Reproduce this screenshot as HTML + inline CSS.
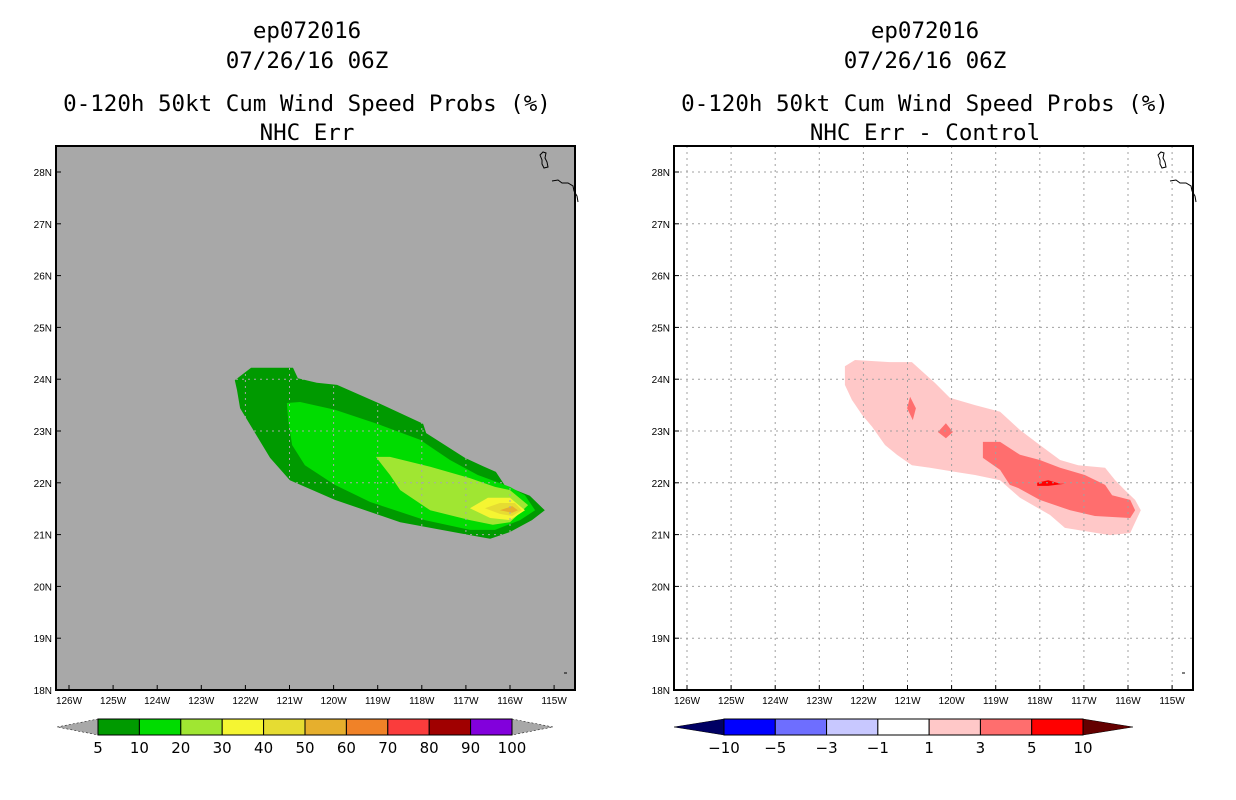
<!DOCTYPE html>
<html><head><meta charset="utf-8"><style>
body{margin:0;background:#fff;width:1236px;height:800px;overflow:hidden}
svg{display:block;font-family:"Liberation Sans",sans-serif}
.t{font-family:"DejaVu Sans Mono","Liberation Mono",monospace;font-size:22.5px;fill:#000;text-anchor:middle}
.tk{font-size:10px;fill:#000}
.cb{font-family:"DejaVu Sans","Liberation Sans",sans-serif;font-size:15px;text-anchor:middle}
</style></head><body>
<svg id="s" width="1236" height="800"></svg>
<script>
const lonTicks=[126,125,124,123,122,121,120,119,118,117,116,115];
const latTicks=[18,19,20,21,22,23,24,25,26,27,28];
// left panel contours [lonW, lat]
const c5=[[122.24,23.98],[121.87,24.22],[120.92,24.22],[120.81,24.02],[120.38,23.93],[119.92,23.89],[118.88,23.5],[117.97,23.14],[117.9,22.96],[117.02,22.48],[116.61,22.32],[116.32,22.21],[116.11,21.94],[115.55,21.75],[115.21,21.47],[115.5,21.28],[116.0,21.05],[116.45,20.92],[116.91,20.99],[118.49,21.24],[119.97,21.67],[120.99,22.05],[121.44,22.48],[121.85,23.06],[122.12,23.44],[122.19,23.79]];
const c10=[[121.06,23.54],[120.76,23.56],[119.97,23.41],[118.95,23.12],[118.04,22.83],[117.36,22.44],[116.73,22.15],[116.0,21.92],[115.66,21.76],[115.43,21.47],[115.77,21.28],[116.34,21.09],[116.91,21.09],[117.93,21.28],[119.17,21.63],[119.97,21.96],[120.65,22.34],[120.94,22.73],[121.03,23.21]];
const c20=[[119.04,22.5],[118.72,22.5],[117.81,22.31],[116.91,22.09],[116.34,21.92],[116.0,21.86],[115.59,21.57],[116.0,21.24],[116.39,21.19],[116.91,21.28],[117.81,21.47],[118.49,21.86],[118.72,22.15]];
const c30=[[116.91,21.51],[116.5,21.71],[116.0,21.71],[115.66,21.47],[116.0,21.28],[116.45,21.32]];
const c40=[[116.57,21.51],[116.23,21.61],[115.89,21.61],[115.73,21.47],[115.95,21.36],[116.23,21.4]];
const c50=[[116.23,21.47],[115.95,21.55],[115.82,21.47],[115.95,21.42]];
// right panel difference contours
const d1=[[122.42,24.25],[122.19,24.37],[121.4,24.33],[120.9,24.33],[120.38,23.93],[120.04,23.64],[119.47,23.5],[118.9,23.37],[118.45,23.02],[118.0,22.73],[117.54,22.44],[117.13,22.34],[116.52,22.29],[116.29,22.05],[116.07,21.86],[115.84,21.67],[115.71,21.47],[115.95,21.03],[116.41,20.99],[117.43,21.13],[117.77,21.38],[118.45,21.71],[118.9,22.05],[119.47,22.15],[119.92,22.21],[120.49,22.29],[120.9,22.34],[121.24,22.54],[121.51,22.73],[121.8,23.08],[122.03,23.31],[122.26,23.6],[122.42,23.89]];
const d3a=[[119.29,22.79],[118.9,22.79],[118.45,22.54],[118.0,22.44],[117.54,22.29],[116.98,22.15],[116.52,21.96],[116.36,21.76],[115.95,21.67],[115.84,21.47],[115.95,21.32],[116.75,21.36],[117.31,21.47],[118.0,21.67],[118.49,21.9],[118.68,21.96],[118.9,22.25],[119.29,22.48]];
const d3b=[[120.94,23.66],[120.81,23.44],[120.88,23.21],[121.01,23.44]];
const d3c=[[120.13,23.15],[119.97,22.98],[120.13,22.86],[120.31,22.98]];
const d5=[[118.06,22.0],[117.81,22.05],[117.54,21.98],[117.43,21.98],[117.81,21.94],[118.06,21.94]];
const leftLevels=["5","10","20","30","40","50","60","70","80","90","100"];
const leftColors=["#009a00","#00dc00","#a0e632","#f5f532","#e6dc32","#e6af2d","#f08228","#fa3c3c","#a00000","#8200dc"];
const rightLevels=["−10","−5","−3","−1","1","3","5","10"];
const rightColors=["#000064","#0000ff","#6e6eff","#c8c8ff","#ffffff","#ffc8c8","#ff6e6e","#ff0000","#640000"];

const NS="http://www.w3.org/2000/svg";
const svg=document.getElementById('s');
function el(t,a,p){const e=document.createElementNS(NS,t);for(const k in a)e.setAttribute(k,a[k]);(p||svg).appendChild(e);return e;}
function xS(x0){return lon=>x0+13+(126-lon)*44.1;}
function yS(lat){return 690-(lat-18)*51.8;}

function panel(x0,bg,name,t3,polys,gridCol){
  const g=el('g',{});
  
  
  const xs=xS(x0);
  const tl=[["ep072016",30],["07/26/16 06Z",60],["0-120h 50kt Cum Wind Speed Probs (%)",103],[t3,132]];
  tl.forEach((t,i)=>{const e=el('text',{x:x0+251,y:t[1]+8,class:'t'},g);e.textContent=t[0];
    
    });
  const r=el('rect',{x:x0,y:146,width:519,height:544,fill:bg},g);
  
  
  polys.forEach(p=>{const pg=el('polygon',{points:p[0].map(q=>xs(q[0]).toFixed(1)+','+yS(q[1]).toFixed(1)).join(' '),fill:p[1]},g);
    
    });
  lonTicks.forEach(l=>{const x=xs(l);
    el('line',{x1:x,y1:146,x2:x,y2:690,stroke:gridCol,'stroke-dasharray':'2,4'},g);
    el('line',{x1:x,y1:690,x2:x,y2:685,stroke:'#000'},g);
    const t=el('text',{x:x,y:704,class:'tk','text-anchor':'middle'},g);t.textContent=l+'W';
    
    });
  latTicks.forEach(l=>{const y=yS(l);
    el('line',{x1:x0,y1:y,x2:x0+519,y2:y,stroke:gridCol,'stroke-dasharray':'2,4'},g);
    el('line',{x1:x0,y1:y,x2:x0+5,y2:y,stroke:'#000'},g);
    const t=el('text',{x:x0-4,y:y+4,class:'tk','text-anchor':'end'},g);t.textContent=l+'N';
    
    });
  el('path',{d:`M${x0+484} 155 l3 -3 l3 1 l-1 5 l2 4 l1 5 l-4 1 l-2 -4 l0 -4 z M${x0+496} 181 l6 -1 l4 3 l6 0 l5 3 l1 5 l3 5 l1 6 M${x0+508} 673 l3 0`,fill:'none',stroke:'#000','stroke-width':1},g);
  el('rect',{x:x0,y:146,width:519,height:544,fill:'none',stroke:'#000','stroke-width':2},g);
}
panel(56,'#a8a8a8','left-panel','NHC Err',[[c5,leftColors[0],'5'],[c10,leftColors[1],'10'],[c20,leftColors[2],'20'],[c30,leftColors[3],'30'],[c40,leftColors[4],'40'],[c50,leftColors[5],'50']],'#a8a8a8');
panel(674,'#ffffff','right-panel','NHC Err - Control',[[d1,rightColors[5],'1'],[d3a,rightColors[6],'3'],[d3b,rightColors[6],'3b'],[d3c,rightColors[6],'3c'],[d5,rightColors[7],'5']],'#a0a0a0');

function colorbar(name,x0,x1,tri,colors,labels,first){
  const g=el('g',{});
  
  
  const n=colors.length-2, w=(x1-x0)/n, y0=719,y1=735, ym=727;
  const tc=first?'#a8a8a8':colors[0], lc=first?'#a8a8a8':colors[colors.length-1];
  el('polygon',{points:`${x0-tri},${ym} ${x0},${y0} ${x0},${y1}`,fill:tc,stroke:'#000','stroke-dasharray':first?'2,2':'none','stroke-width':0.5},g);
  el('polygon',{points:`${x1+tri},${ym} ${x1},${y0} ${x1},${y1}`,fill:lc,stroke:'#000','stroke-dasharray':first?'2,2':'none','stroke-width':0.5},g);
  for(let i=0;i<n;i++){const r=el('rect',{x:x0+i*w,y:y0,width:w,height:y1-y0,fill:colors[i+1],stroke:'#000'},g);
    
    }
  labels.forEach((l,i)=>{const t=el('text',{x:x0+i*w,y:753,class:'cb'},g);t.textContent=l;
    
    });
}
colorbar('left-colorbar',98,512,41,['#a8a8a8'].concat(leftColors).concat(['#a8a8a8']),leftLevels,true);
colorbar('right-colorbar',724,1083,50,rightColors,rightLevels,false);
</script>
</body></html>
